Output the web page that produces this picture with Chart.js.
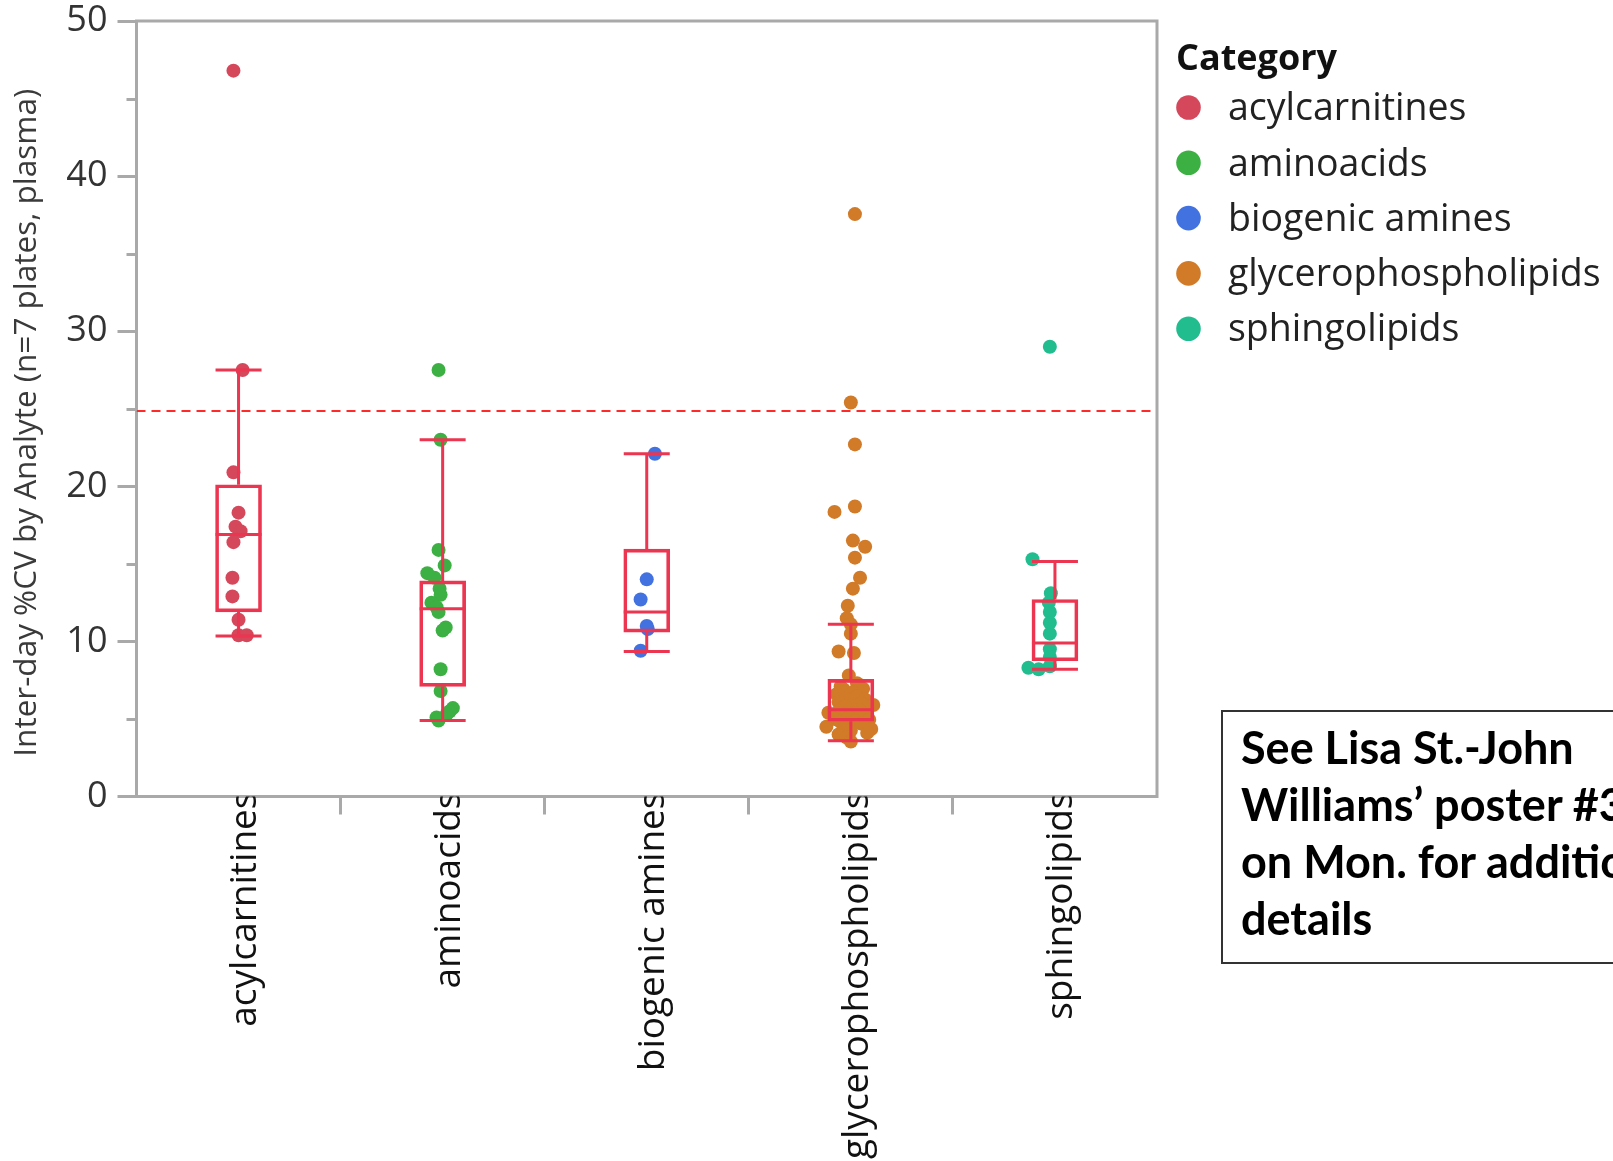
<!DOCTYPE html>
<html>
<head>
<meta charset="utf-8">
<title>Inter-day %CV by analyte category</title>
<script src="https://cdn.jsdelivr.net/npm/chart.js@4.4.1/dist/chart.umd.min.js"></script>
<style>
  html, body { margin: 0; padding: 0; background: #fff; overflow: hidden; }
  #wrap { position: relative; width: 1613px; height: 1161px; overflow: hidden; }
  #chart { position: absolute; left: 0; top: 0; }
  #note {
    position: absolute; left: 1221px; top: 710px; width: 520px; height: 254px;
    box-sizing: border-box; border: 2px solid #333; padding: 7px 0 0 18px;
    font: bold 45px/57px Lato, "Open Sans", sans-serif; color: #000; white-space: nowrap;
  }
</style>
</head>
<body>
<div id="wrap">
  <canvas id="chart" width="1613" height="1161"></canvas>
  <div id="note">See Lisa St.-John<br>Williams’ poster #3<br>on Mon. for additional<br>details</div>
</div>
<script>
// Analyte categories (x axis)
const categories = ['acylcarnitines', 'aminoacids', 'biogenic amines', 'glycerophospholipids', 'sphingolipids'];

// Inter-day %CV per analyte, with the horizontal jitter (in category widths) used to spread the dots
const acylcarnitinesCV     = [46.8, 27.5, 20.9, 18.3, 17.4, 17.1, 16.4, 14.1, 12.9, 11.4, 10.4, 10.4];
const acylcarnitinesJitter = [-0.025, 0.02, -0.025, 0, -0.015, 0.01, -0.025, -0.03, -0.03, 0, 0, 0.04];

const aminoacidsCV     = [27.5, 23.0, 15.9, 14.9, 14.4, 14.1, 13.4, 13.0, 12.5, 12.2, 11.9, 10.9, 10.7, 8.2, 6.8, 5.7, 5.5, 5.3, 5.1, 4.9];
const aminoacidsJitter = [-0.02, -0.01, -0.02, 0.01, -0.075, -0.04, -0.015, -0.01, -0.055, -0.03, -0.02, 0.015, 0, -0.01, -0.01, 0.05, 0.035, 0.02, -0.03, -0.02];

const biogenicAminesCV     = [22.1, 14.0, 12.7, 11.0, 10.8, 9.4];
const biogenicAminesJitter = [0.04, 0, -0.03, 0, 0.005, -0.03];

const glycerophospholipidsCV = [37.55, 25.4, 22.7, 18.7, 18.35, 16.5, 16.1, 15.4, 14.1, 13.4, 12.3, 11.5, 11.1, 10.5,
  9.35, 9.25, 7.8, 7.3, 7.1, 6.95, 6.9, 6.7, 6.6, 6.45, 6.3, 6.25, 6.1, 6.0, 5.9, 5.85, 5.8, 5.7, 5.6, 5.5, 5.4,
  5.35, 5.3, 5.2, 5.15, 5.1, 5.0, 4.95, 4.85, 4.8, 4.7, 4.6, 4.5, 4.4, 4.35, 4.25, 4.1, 4.0, 3.8, 3.55];
const glycerophospholipidsJitter = [0.02, 0, 0.02, 0.02, -0.08, 0.01, 0.07, 0.02, 0.045, 0.01, -0.015, -0.02, 0, 0,
  -0.06, 0.015, -0.01, 0.03, -0.05, 0.06, -0.035, 0.01, -0.07, 0.03, -0.02, 0.07, -0.06, 0.05, 0.11, 0, -0.03, 0.08, 0.04, -0.06, -0.11,
  0.02, -0.035, 0.06, 0.03, -0.01, -0.08, 0.09, 0.02, -0.05, 0.05, 0.07, -0.12, -0.03, 0.1, 0, 0.08, -0.06, -0.02, 0];

const sphingolipidsCV     = [29.0, 15.3, 13.1, 12.5, 11.9, 11.2, 10.5, 9.5, 9.0, 8.4, 8.3, 8.2];
const sphingolipidsJitter = [-0.025, -0.11, -0.02, -0.03, -0.025, -0.025, -0.025, -0.025, -0.025, -0.025, -0.13, -0.08];

// Box plot summary per category
const boxQ1       = [11.9, 7.1, 10.6, 4.85, 8.75];
const boxMedian   = [16.9, 12.1, 11.9, 5.6, 9.9];
const boxQ3       = [20.1, 13.9, 15.95, 7.55, 12.7];
const whiskerLow  = [10.35, 4.9, 9.35, 3.6, 8.2];
const whiskerHigh = [27.5, 23.0, 22.1, 11.1, 15.15];

// Acceptance limit drawn as a dashed line
const cvLimit = 24.85;

const yTicks = [0, 10, 20, 30, 40, 50];
const yMinorTicks = [5, 15, 25, 35, 45];
const yTitle = 'Inter-day %CV by Analyte (n=7 plates, plasma)';

// Styling
const palette = ['#D5475B', '#3CB043', '#4271E0', '#D17A28', '#22BD8E'];
const boxColor = '#EC3550';
const axisGrey = '#A9A9A9';

const pointSets = [
  [acylcarnitinesCV, acylcarnitinesJitter],
  [aminoacidsCV, aminoacidsJitter],
  [biogenicAminesCV, biogenicAminesJitter],
  [glycerophospholipidsCV, glycerophospholipidsJitter],
  [sphingolipidsCV, sphingolipidsJitter]
];

const scatterDatasets = categories.map((name, i) => ({
  type: 'scatter',
  label: name,
  xAxisID: 'xj',
  yAxisID: 'y',
  data: pointSets[i][0].map((v, k) => ({ x: i + pointSets[i][1][k], y: v })),
  backgroundColor: palette[i],
  borderWidth: 0,
  pointRadius: 7,
  order: 2
}));

// Whiskers, caps and median lines on top of the boxes
const boxWhiskers = {
  id: 'boxWhiskers',
  afterDatasetsDraw(chart) {
    const { ctx, scales: { x, y } } = chart;
    const half = 23;
    ctx.save();
    ctx.strokeStyle = boxColor;
    ctx.lineWidth = 3;
    categories.forEach((c, i) => {
      const cx = x.getPixelForValue(i);
      const yLo = y.getPixelForValue(whiskerLow[i]);
      const yHi = y.getPixelForValue(whiskerHigh[i]);
      const yQ1 = y.getPixelForValue(boxQ1[i]);
      const yQ3 = y.getPixelForValue(boxQ3[i]);
      const yMed = y.getPixelForValue(boxMedian[i]);
      ctx.beginPath();
      ctx.moveTo(cx, yQ3); ctx.lineTo(cx, yHi);
      ctx.moveTo(cx, yQ1); ctx.lineTo(cx, yLo);
      ctx.moveTo(cx - half, yHi); ctx.lineTo(cx + half, yHi);
      ctx.moveTo(cx - half, yLo); ctx.lineTo(cx + half, yLo);
      ctx.moveTo(cx - half, yMed); ctx.lineTo(cx + half, yMed);
      ctx.stroke();
    });
    ctx.restore();
  }
};

// Top/right frame of the plot, the short minor y ticks and the y axis title
const plotFrame = {
  id: 'plotFrame',
  afterDraw(chart) {
    const { ctx, chartArea: a, scales: { y } } = chart;
    ctx.save();
    ctx.strokeStyle = axisGrey;
    ctx.lineWidth = 3;
    ctx.beginPath();
    ctx.moveTo(a.left - 1.5, a.top);
    ctx.lineTo(a.right, a.top);
    ctx.lineTo(a.right, a.bottom + 1.5);
    yMinorTicks.forEach(v => {
      const py = Math.round(y.getPixelForValue(v)) + 0.5;
      ctx.moveTo(a.left - 10, py);
      ctx.lineTo(a.left, py);
    });
    ctx.stroke();

    ctx.translate(27, y.getPixelForValue(24.1));
    ctx.rotate(-Math.PI / 2);
    ctx.textAlign = 'center';
    ctx.textBaseline = 'middle';
    ctx.fillStyle = '#3a3a3a';
    ctx.font = '31.5px "Open Sans"';
    ctx.fillText(yTitle, 0, 0);
    ctx.restore();
  }
};

// Category legend to the right of the plot
const categoryLegend = {
  id: 'categoryLegend',
  afterDraw(chart) {
    const { ctx } = chart;
    ctx.save();
    ctx.textBaseline = 'alphabetic';
    ctx.textAlign = 'left';
    ctx.fillStyle = '#111';
    ctx.font = 'bold 36px "Open Sans"';
    ctx.fillText('Category', 1176, 70);
    ctx.font = '37.5px "Open Sans"';
    categories.forEach((name, i) => {
      const cy = 107.5 + i * 55.3;
      ctx.beginPath();
      ctx.arc(1188.5, cy, 12.3, 0, Math.PI * 2);
      ctx.fillStyle = palette[i];
      ctx.fill();
      ctx.fillStyle = '#222';
      ctx.fillText(name, 1228, cy + 12.7);
    });
    ctx.restore();
  }
};

new Chart(document.getElementById('chart'), {
  type: 'bar',
  data: {
    labels: categories,
    datasets: [
      {
        type: 'bar',
        label: 'IQR',
        xAxisID: 'x',
        yAxisID: 'y',
        data: boxQ1.map((q, i) => [q, boxQ3[i]]),
        backgroundColor: 'rgba(0,0,0,0)',
        borderColor: boxColor,
        borderWidth: 3,
        borderSkipped: false,
        barThickness: 46,
        grouped: false,
        order: 0
      },
      ...scatterDatasets,
      {
        type: 'line',
        label: 'limit',
        xAxisID: 'xj',
        yAxisID: 'y',
        data: [{ x: -0.5, y: cvLimit }, { x: 4.5, y: cvLimit }],
        borderColor: '#FF2B2B',
        borderWidth: 2,
        borderDash: [9, 6],
        pointRadius: 0,
        order: 3
      }
    ]
  },
  options: {
    responsive: false,
    animation: false,
    events: [],
    layout: { padding: { left: 0, top: 21, right: 456, bottom: 0 } },
    plugins: { legend: { display: false }, tooltip: { enabled: false } },
    scales: {
      x: {
        type: 'category',
        offset: true,
        grid: {
          offset: true,
          drawOnChartArea: false,
          drawTicks: true,
          tickLength: 18,
          tickWidth: 3,
          tickColor: ctx => (ctx.type === 'tick' && ctx.index > 0) ? axisGrey : 'rgba(0,0,0,0)'
        },
        border: { color: axisGrey, width: 3 },
        ticks: {
          autoSkip: false,
          minRotation: 90,
          maxRotation: 90,
          padding: -23,
          labelOffset: 7,
          color: '#111',
          font: { family: '"Open Sans"', size: 37 }
        },
        afterFit: s => { s.height = 1161 - 796.5; s.paddingLeft = 0; s.paddingRight = 0; }
      },
      xj: { type: 'linear', min: -0.5, max: 4.5, offset: false, display: false },
      y: {
        type: 'linear',
        min: 0,
        max: 50,
        afterBuildTicks: s => { s.ticks = yTicks.map(v => ({ value: v })); },
        ticks: { padding: 10, color: '#333', font: { family: '"Open Sans"', size: 36 } },
        grid: { drawOnChartArea: false, tickLength: 19, tickWidth: 3, tickColor: axisGrey },
        border: { color: axisGrey, width: 3 },
        title: { display: false },
        afterFit: s => { s.width = 136.5; s.paddingTop = 0; s.paddingBottom = 0; }
      }
    }
  },
  plugins: [boxWhiskers, plotFrame, categoryLegend]
});
</script>
</body>
</html>
